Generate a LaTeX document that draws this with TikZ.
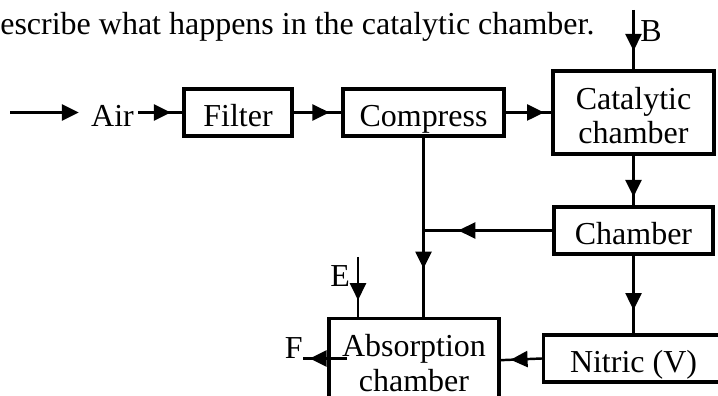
\documentclass[tikz,border=0pt]{standalone}
\usepackage{fontspec}
\setmainfont{Liberation Serif}
\usepackage{tikz}
\usetikzlibrary{arrows.meta, positioning, calc, decorations.markings}

\begin{document}
\begin{tikzpicture}[
  every node/.style={font=\fontsize{18.2pt}{19.9pt}\selectfont},
  unit/.style={draw, line width=1.9pt, inner sep=0pt, align=center,
               text height=0.76cm, text depth=0.18cm},
  tall/.style={text height=1.46cm, text depth=0.2cm},
  lbl/.style={inner sep=0pt},
  flow/.style={line width=1.4pt},
  marr/.style={flow, postaction={decorate},
               decoration={markings, mark=at position #1 with
                 {\arrow{Triangle[length=0.34cm, width=0.32cm]}}}},
  arr/.style={flow, -{Triangle[length=0.34cm, width=0.32cm]}}
]
  \useasboundingbox (0,0) rectangle (14.36,7.92);
  \clip (0,0) rectangle (14.36,7.92);

  % question text
  \node[lbl, anchor=base west] (q) at (0,7.22)
    {escribe what happens in the catalytic chamber.};

  % top row
  \coordinate (air0) at (0.2,5.67);
  \node[lbl, inner xsep=0.08cm, text height=0.76cm, text depth=0.18cm] (air) at (2.25,5.67) {Air};
  \node[unit, minimum width=2.16cm] (filter) at (4.76,5.67) {Filter};
  \node[unit, minimum width=3.22cm] (compress) at (8.47,5.67) {Compress};
  \node[unit, tall, minimum width=3.22cm] (cat) at (12.67,5.67) {Catalytic\\chamber};
  \coordinate (b0) at (12.67,7.72);
  \node[lbl, anchor=base west] (B) at (12.8,7.08) {B};

  % right column
  \node[unit, minimum width=3.18cm] (chamber) at (12.67,3.31) {Chamber};
  \node[unit, minimum width=3.6cm] (nitric) at (12.67,0.75) {Nitric (V)};

  % absorption
  \node[unit, tall, minimum width=3.4cm] (absorb) at (8.28,1.58) [anchor=north] {Absorption\\chamber};
  \coordinate (jn) at (compress.south |- chamber.west);
  \coordinate (e0) at (7.16,2.78);
  \node[lbl, anchor=base west] (E) at (6.6,2.18) {E};
  \coordinate (f0) at (6.94,0.75);
  \node[lbl, anchor=east, text height=0.4cm, text depth=0.4cm] (F) at (6.06,0.75) {F};

  % connectors
  \draw[arr, shorten >=0.16cm] (air0) -- (air.west);
  \draw[marr=0.74] (air.east) -- (filter.west);
  \draw[marr=0.75] (filter.east) -- (compress.west);
  \draw[marr=0.84] (compress.east) -- (cat.west);
  \draw[marr=0.69] (b0) -- (cat.north);
  \draw[marr=0.83] (cat.south) -- (chamber.north);
  \draw[marr=0.73] (chamber.west) -- (jn);
  \draw[marr=0.73] (compress.south) -- (compress.south |- absorb.north);
  \draw[marr=0.70] (chamber.south) -- (nitric.north);
  \draw[marr=0.76] (nitric.west) -- (absorb.east);
  \draw[marr=0.72] (e0) -- (e0 |- absorb.north);
  \draw[marr=0.85] (f0) -- (F.east);
\end{tikzpicture}
\end{document}
